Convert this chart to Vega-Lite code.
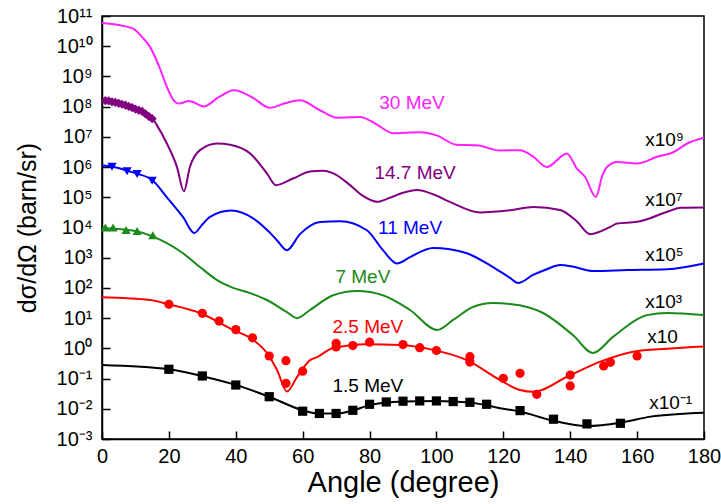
{
  "$schema": "https://vega.github.io/schema/vega-lite/v6.json",
  "width": 602,
  "height": 423,
  "autosize": {"type": "none"},
  "padding": {"left": 102, "top": 16, "right": 17, "bottom": 65},
  "config": {
    "font": "Liberation Sans",
    "view": {"stroke": "black", "strokeWidth": 1.5},
    "axis": {
      "grid": false,
      "ticks": true,
      "tickSize": -8,
      "tickColor": "black",
      "tickWidth": 1.5,
      "labelFontSize": 20,
      "labelColor": "black",
      "titleFontWeight": "normal",
      "titleColor": "black",
      "domainColor": "black",
      "domainWidth": 1.5,
      "labelOverlap": false,
      "labelFlush": false,
      "labelBound": false
    }
  },
  "datasets": {
    "curves": [
      {"series": "30 MeV", "angle": 0, "sigma": 5.89e10},
      {"series": "30 MeV", "angle": 5, "sigma": 5.01e10},
      {"series": "30 MeV", "angle": 9.3, "sigma": 3.8e10},
      {"series": "30 MeV", "angle": 12, "sigma": 2.0e10},
      {"series": "30 MeV", "angle": 14.4, "sigma": 9.33e9},
      {"series": "30 MeV", "angle": 17.3, "sigma": 1.86e9},
      {"series": "30 MeV", "angle": 19.4, "sigma": 4.47e8},
      {"series": "30 MeV", "angle": 21.8, "sigma": 1.45e8},
      {"series": "30 MeV", "angle": 23, "sigma": 1.26e8},
      {"series": "30 MeV", "angle": 26, "sigma": 1.55e8},
      {"series": "30 MeV", "angle": 30.5, "sigma": 1.02e8},
      {"series": "30 MeV", "angle": 35, "sigma": 2.09e8},
      {"series": "30 MeV", "angle": 39.5, "sigma": 3.47e8},
      {"series": "30 MeV", "angle": 45, "sigma": 2.0e8},
      {"series": "30 MeV", "angle": 50.2, "sigma": 9.12e7},
      {"series": "30 MeV", "angle": 55, "sigma": 1.32e8},
      {"series": "30 MeV", "angle": 59.2, "sigma": 1.62e8},
      {"series": "30 MeV", "angle": 65.2, "sigma": 7.59e7},
      {"series": "30 MeV", "angle": 70.3, "sigma": 4.27e7},
      {"series": "30 MeV", "angle": 77.2, "sigma": 4.57e7},
      {"series": "30 MeV", "angle": 82, "sigma": 2.63e7},
      {"series": "30 MeV", "angle": 87, "sigma": 1.32e7},
      {"series": "30 MeV", "angle": 95, "sigma": 1.41e7},
      {"series": "30 MeV", "angle": 100, "sigma": 1.12e7},
      {"series": "30 MeV", "angle": 106, "sigma": 5.5e6},
      {"series": "30 MeV", "angle": 112, "sigma": 5.25e6},
      {"series": "30 MeV", "angle": 119, "sigma": 3.55e6},
      {"series": "30 MeV", "angle": 125, "sigma": 3.63e6},
      {"series": "30 MeV", "angle": 129, "sigma": 2.19e6},
      {"series": "30 MeV", "angle": 133, "sigma": 1.0e6},
      {"series": "30 MeV", "angle": 139, "sigma": 2.82e6},
      {"series": "30 MeV", "angle": 142, "sigma": 8.91e5},
      {"series": "30 MeV", "angle": 144.4, "sigma": 4.79e5},
      {"series": "30 MeV", "angle": 147.7, "sigma": 1.02e5},
      {"series": "30 MeV", "angle": 149.5, "sigma": 4.79e5},
      {"series": "30 MeV", "angle": 151, "sigma": 1.0e6},
      {"series": "30 MeV", "angle": 154, "sigma": 1.48e6},
      {"series": "30 MeV", "angle": 160, "sigma": 1.32e6},
      {"series": "30 MeV", "angle": 166, "sigma": 2.19e6},
      {"series": "30 MeV", "angle": 171, "sigma": 3.16e6},
      {"series": "30 MeV", "angle": 175, "sigma": 6.03e6},
      {"series": "30 MeV", "angle": 180, "sigma": 9.33e6},

      {"series": "14.7 MeV", "angle": 0, "sigma": 1.62e8},
      {"series": "14.7 MeV", "angle": 5, "sigma": 1.26e8},
      {"series": "14.7 MeV", "angle": 10, "sigma": 7.94e7},
      {"series": "14.7 MeV", "angle": 15, "sigma": 4.17e7},
      {"series": "14.7 MeV", "angle": 16.4, "sigma": 2.45e7},
      {"series": "14.7 MeV", "angle": 19.4, "sigma": 6.03e6},
      {"series": "14.7 MeV", "angle": 22.4, "sigma": 1.02e6},
      {"series": "14.7 MeV", "angle": 24.5, "sigma": 1.58e5},
      {"series": "14.7 MeV", "angle": 26.3, "sigma": 1.02e6},
      {"series": "14.7 MeV", "angle": 29.3, "sigma": 3.63e6},
      {"series": "14.7 MeV", "angle": 34.4, "sigma": 6.03e6},
      {"series": "14.7 MeV", "angle": 38.3, "sigma": 5.5e6},
      {"series": "14.7 MeV", "angle": 44.3, "sigma": 2.82e6},
      {"series": "14.7 MeV", "angle": 49.3, "sigma": 6.17e5},
      {"series": "14.7 MeV", "angle": 52, "sigma": 2.51e5},
      {"series": "14.7 MeV", "angle": 57.1, "sigma": 4.17e5},
      {"series": "14.7 MeV", "angle": 62.2, "sigma": 7.08e5},
      {"series": "14.7 MeV", "angle": 66, "sigma": 7.59e5},
      {"series": "14.7 MeV", "angle": 69, "sigma": 6.31e5},
      {"series": "14.7 MeV", "angle": 74, "sigma": 2.63e5},
      {"series": "14.7 MeV", "angle": 78, "sigma": 1.12e5},
      {"series": "14.7 MeV", "angle": 82.2, "sigma": 7.08e4},
      {"series": "14.7 MeV", "angle": 86, "sigma": 9.55e4},
      {"series": "14.7 MeV", "angle": 90, "sigma": 1.41e5},
      {"series": "14.7 MeV", "angle": 94.2, "sigma": 1.74e5},
      {"series": "14.7 MeV", "angle": 99, "sigma": 1.26e5},
      {"series": "14.7 MeV", "angle": 104, "sigma": 7.08e4},
      {"series": "14.7 MeV", "angle": 113, "sigma": 3.16e4},
      {"series": "14.7 MeV", "angle": 122, "sigma": 3.72e4},
      {"series": "14.7 MeV", "angle": 129, "sigma": 4.79e4},
      {"series": "14.7 MeV", "angle": 137, "sigma": 3.8e4},
      {"series": "14.7 MeV", "angle": 142, "sigma": 1.58e4},
      {"series": "14.7 MeV", "angle": 146, "sigma": 6.03e3},
      {"series": "14.7 MeV", "angle": 152, "sigma": 1.05e4},
      {"series": "14.7 MeV", "angle": 154, "sigma": 1.35e4},
      {"series": "14.7 MeV", "angle": 160, "sigma": 1.55e4},
      {"series": "14.7 MeV", "angle": 162, "sigma": 1.74e4},
      {"series": "14.7 MeV", "angle": 169, "sigma": 3.31e4},
      {"series": "14.7 MeV", "angle": 173, "sigma": 4.47e4},
      {"series": "14.7 MeV", "angle": 180, "sigma": 4.57e4},

      {"series": "11 MeV", "angle": 0, "sigma": 1.12e6},
      {"series": "11 MeV", "angle": 3.3, "sigma": 1.02e6},
      {"series": "11 MeV", "angle": 7.5, "sigma": 7.59e5},
      {"series": "11 MeV", "angle": 10.5, "sigma": 6.03e5},
      {"series": "11 MeV", "angle": 15, "sigma": 3.72e5},
      {"series": "11 MeV", "angle": 19.4, "sigma": 1.0e5},
      {"series": "11 MeV", "angle": 24.2, "sigma": 2.24e4},
      {"series": "11 MeV", "angle": 27.6, "sigma": 6.61e3},
      {"series": "11 MeV", "angle": 30, "sigma": 1.26e4},
      {"series": "11 MeV", "angle": 32.3, "sigma": 2.24e4},
      {"series": "11 MeV", "angle": 38.6, "sigma": 3.63e4},
      {"series": "11 MeV", "angle": 45.2, "sigma": 2.0e4},
      {"series": "11 MeV", "angle": 50, "sigma": 7.08e3},
      {"series": "11 MeV", "angle": 52.3, "sigma": 3.8e3},
      {"series": "11 MeV", "angle": 55.3, "sigma": 1.78e3},
      {"series": "11 MeV", "angle": 59.2, "sigma": 6.03e3},
      {"series": "11 MeV", "angle": 65.2, "sigma": 1.51e4},
      {"series": "11 MeV", "angle": 71.2, "sigma": 1.62e4},
      {"series": "11 MeV", "angle": 79.2, "sigma": 8.13e3},
      {"series": "11 MeV", "angle": 84, "sigma": 1.78e3},
      {"series": "11 MeV", "angle": 88.2, "sigma": 646},
      {"series": "11 MeV", "angle": 92.1, "sigma": 1050},
      {"series": "11 MeV", "angle": 99, "sigma": 2090},
      {"series": "11 MeV", "angle": 104, "sigma": 1910},
      {"series": "11 MeV", "angle": 109.1, "sigma": 1410},
      {"series": "11 MeV", "angle": 116.9, "sigma": 490},
      {"series": "11 MeV", "angle": 122, "sigma": 214},
      {"series": "11 MeV", "angle": 124.4, "sigma": 145},
      {"series": "11 MeV", "angle": 128.9, "sigma": 269},
      {"series": "11 MeV", "angle": 133, "sigma": 417},
      {"series": "11 MeV", "angle": 137, "sigma": 575},
      {"series": "11 MeV", "angle": 141, "sigma": 501},
      {"series": "11 MeV", "angle": 146.8, "sigma": 363},
      {"series": "11 MeV", "angle": 157, "sigma": 389},
      {"series": "11 MeV", "angle": 169, "sigma": 417},
      {"series": "11 MeV", "angle": 180, "sigma": 646},

      {"series": "7 MeV", "angle": 0, "sigma": 9330},
      {"series": "7 MeV", "angle": 5, "sigma": 8900},
      {"series": "7 MeV", "angle": 10, "sigma": 7600},
      {"series": "7 MeV", "angle": 15.3, "sigma": 5000},
      {"series": "7 MeV", "angle": 19.4, "sigma": 3020},
      {"series": "7 MeV", "angle": 24.2, "sigma": 1410},
      {"series": "7 MeV", "angle": 29.3, "sigma": 490},
      {"series": "7 MeV", "angle": 34.4, "sigma": 182},
      {"series": "7 MeV", "angle": 39.2, "sigma": 100},
      {"series": "7 MeV", "angle": 44.3, "sigma": 67.6},
      {"series": "7 MeV", "angle": 49.3, "sigma": 39.8},
      {"series": "7 MeV", "angle": 55.3, "sigma": 15.8},
      {"series": "7 MeV", "angle": 58.3, "sigma": 10},
      {"series": "7 MeV", "angle": 62.2, "sigma": 18.6},
      {"series": "7 MeV", "angle": 69.1, "sigma": 57.5},
      {"series": "7 MeV", "angle": 76.3, "sigma": 79.4},
      {"series": "7 MeV", "angle": 84, "sigma": 57.5},
      {"series": "7 MeV", "angle": 92.1, "sigma": 18.6},
      {"series": "7 MeV", "angle": 100.2, "sigma": 4.07},
      {"series": "7 MeV", "angle": 105, "sigma": 8.71},
      {"series": "7 MeV", "angle": 110.9, "sigma": 23.4},
      {"series": "7 MeV", "angle": 116.9, "sigma": 31.6},
      {"series": "7 MeV", "angle": 122, "sigma": 29.5},
      {"series": "7 MeV", "angle": 131.9, "sigma": 14.8},
      {"series": "7 MeV", "angle": 140.8, "sigma": 2.75},
      {"series": "7 MeV", "angle": 146.8, "sigma": 0.708},
      {"series": "7 MeV", "angle": 152.8, "sigma": 2.4},
      {"series": "7 MeV", "angle": 163, "sigma": 12.6},
      {"series": "7 MeV", "angle": 169, "sigma": 14.8},
      {"series": "7 MeV", "angle": 180, "sigma": 12.6},

      {"series": "2.5 MeV", "angle": 0, "sigma": 49},
      {"series": "2.5 MeV", "angle": 14.4, "sigma": 39.8},
      {"series": "2.5 MeV", "angle": 20, "sigma": 28.6},
      {"series": "2.5 MeV", "angle": 29.3, "sigma": 14.8},
      {"series": "2.5 MeV", "angle": 39.2, "sigma": 4.07},
      {"series": "2.5 MeV", "angle": 45.2, "sigma": 1.91},
      {"series": "2.5 MeV", "angle": 49.3, "sigma": 0.708},
      {"series": "2.5 MeV", "angle": 52.3, "sigma": 0.195},
      {"series": "2.5 MeV", "angle": 55.3, "sigma": 0.0372},
      {"series": "2.5 MeV", "angle": 58.3, "sigma": 0.112},
      {"series": "2.5 MeV", "angle": 62.2, "sigma": 0.407},
      {"series": "2.5 MeV", "angle": 64.3, "sigma": 0.513},
      {"series": "2.5 MeV", "angle": 69.1, "sigma": 1.02},
      {"series": "2.5 MeV", "angle": 79.2, "sigma": 1.38},
      {"series": "2.5 MeV", "angle": 89.1, "sigma": 1.29},
      {"series": "2.5 MeV", "angle": 99, "sigma": 0.891},
      {"series": "2.5 MeV", "angle": 109.1, "sigma": 0.407},
      {"series": "2.5 MeV", "angle": 119, "sigma": 0.0891},
      {"series": "2.5 MeV", "angle": 125, "sigma": 0.0417},
      {"series": "2.5 MeV", "angle": 128.9, "sigma": 0.0363},
      {"series": "2.5 MeV", "angle": 139.1, "sigma": 0.115},
      {"series": "2.5 MeV", "angle": 149, "sigma": 0.363},
      {"series": "2.5 MeV", "angle": 158.8, "sigma": 0.776},
      {"series": "2.5 MeV", "angle": 169, "sigma": 0.977},
      {"series": "2.5 MeV", "angle": 180, "sigma": 1.15},

      {"series": "1.5 MeV", "angle": 0, "sigma": 0.282},
      {"series": "1.5 MeV", "angle": 20, "sigma": 0.204},
      {"series": "1.5 MeV", "angle": 30, "sigma": 0.12},
      {"series": "1.5 MeV", "angle": 40, "sigma": 0.0617},
      {"series": "1.5 MeV", "angle": 50, "sigma": 0.0251},
      {"series": "1.5 MeV", "angle": 60, "sigma": 0.00891},
      {"series": "1.5 MeV", "angle": 65, "sigma": 0.00692},
      {"series": "1.5 MeV", "angle": 70, "sigma": 0.00692},
      {"series": "1.5 MeV", "angle": 75, "sigma": 0.00871},
      {"series": "1.5 MeV", "angle": 80, "sigma": 0.0132},
      {"series": "1.5 MeV", "angle": 90, "sigma": 0.0174},
      {"series": "1.5 MeV", "angle": 100, "sigma": 0.0182},
      {"series": "1.5 MeV", "angle": 110, "sigma": 0.0162},
      {"series": "1.5 MeV", "angle": 119, "sigma": 0.0105},
      {"series": "1.5 MeV", "angle": 125, "sigma": 0.00813},
      {"series": "1.5 MeV", "angle": 134, "sigma": 0.00427},
      {"series": "1.5 MeV", "angle": 145, "sigma": 0.00269},
      {"series": "1.5 MeV", "angle": 155, "sigma": 0.00347},
      {"series": "1.5 MeV", "angle": 164, "sigma": 0.0055},
      {"series": "1.5 MeV", "angle": 180, "sigma": 0.00741}
    ],
    "points": [
      {"series": "14.7 MeV", "angle": 1, "sigma": 1.58e8},
      {"series": "14.7 MeV", "angle": 2, "sigma": 1.55e8},
      {"series": "14.7 MeV", "angle": 3, "sigma": 1.45e8},
      {"series": "14.7 MeV", "angle": 4, "sigma": 1.38e8},
      {"series": "14.7 MeV", "angle": 5, "sigma": 1.29e8},
      {"series": "14.7 MeV", "angle": 6, "sigma": 1.2e8},
      {"series": "14.7 MeV", "angle": 7, "sigma": 1.12e8},
      {"series": "14.7 MeV", "angle": 8, "sigma": 1.02e8},
      {"series": "14.7 MeV", "angle": 9, "sigma": 9.33e7},
      {"series": "14.7 MeV", "angle": 10, "sigma": 8.32e7},
      {"series": "14.7 MeV", "angle": 11, "sigma": 7.59e7},
      {"series": "14.7 MeV", "angle": 12, "sigma": 6.92e7},
      {"series": "14.7 MeV", "angle": 13, "sigma": 5.75e7},
      {"series": "14.7 MeV", "angle": 14, "sigma": 4.79e7},
      {"series": "14.7 MeV", "angle": 15, "sigma": 3.98e7},

      {"series": "11 MeV", "angle": 3, "sigma": 1.02e6},
      {"series": "11 MeV", "angle": 7.5, "sigma": 7.24e5},
      {"series": "11 MeV", "angle": 10.5, "sigma": 5.89e5},
      {"series": "11 MeV", "angle": 15, "sigma": 3.55e5},

      {"series": "7 MeV", "angle": 1, "sigma": 10000},
      {"series": "7 MeV", "angle": 3.3, "sigma": 10000},
      {"series": "7 MeV", "angle": 7.2, "sigma": 8300},
      {"series": "7 MeV", "angle": 10.5, "sigma": 7600},
      {"series": "7 MeV", "angle": 15.2, "sigma": 5500},

      {"series": "2.5 MeV", "angle": 20, "sigma": 28.6},
      {"series": "2.5 MeV", "angle": 30, "sigma": 14.4},
      {"series": "2.5 MeV", "angle": 35, "sigma": 8.02},
      {"series": "2.5 MeV", "angle": 40, "sigma": 4.17},
      {"series": "2.5 MeV", "angle": 45, "sigma": 2.23},
      {"series": "2.5 MeV", "angle": 50, "sigma": 0.558},
      {"series": "2.5 MeV", "angle": 55, "sigma": 0.39},
      {"series": "2.5 MeV", "angle": 55, "sigma": 0.0698},
      {"series": "2.5 MeV", "angle": 60, "sigma": 0.175},
      {"series": "2.5 MeV", "angle": 70, "sigma": 1.47},
      {"series": "2.5 MeV", "angle": 70, "sigma": 1.11},
      {"series": "2.5 MeV", "angle": 75, "sigma": 1.24},
      {"series": "2.5 MeV", "angle": 80, "sigma": 1.6},
      {"series": "2.5 MeV", "angle": 90, "sigma": 1.33},
      {"series": "2.5 MeV", "angle": 95, "sigma": 1.05},
      {"series": "2.5 MeV", "angle": 100, "sigma": 0.849},
      {"series": "2.5 MeV", "angle": 110, "sigma": 0.53},
      {"series": "2.5 MeV", "angle": 110, "sigma": 0.353},
      {"series": "2.5 MeV", "angle": 120, "sigma": 0.102},
      {"series": "2.5 MeV", "angle": 125, "sigma": 0.149},
      {"series": "2.5 MeV", "angle": 130, "sigma": 0.0302},
      {"series": "2.5 MeV", "angle": 140, "sigma": 0.131},
      {"series": "2.5 MeV", "angle": 140, "sigma": 0.0569},
      {"series": "2.5 MeV", "angle": 150, "sigma": 0.261},
      {"series": "2.5 MeV", "angle": 152, "sigma": 0.345},
      {"series": "2.5 MeV", "angle": 160, "sigma": 0.558},

      {"series": "1.5 MeV", "angle": 20, "sigma": 0.203},
      {"series": "1.5 MeV", "angle": 30, "sigma": 0.122},
      {"series": "1.5 MeV", "angle": 40, "sigma": 0.0612},
      {"series": "1.5 MeV", "angle": 50, "sigma": 0.0251},
      {"series": "1.5 MeV", "angle": 60, "sigma": 0.00832},
      {"series": "1.5 MeV", "angle": 65, "sigma": 0.007},
      {"series": "1.5 MeV", "angle": 70, "sigma": 0.007},
      {"series": "1.5 MeV", "angle": 75, "sigma": 0.00891},
      {"series": "1.5 MeV", "angle": 80, "sigma": 0.0141},
      {"series": "1.5 MeV", "angle": 85, "sigma": 0.0168},
      {"series": "1.5 MeV", "angle": 90, "sigma": 0.0178},
      {"series": "1.5 MeV", "angle": 95, "sigma": 0.0182},
      {"series": "1.5 MeV", "angle": 100, "sigma": 0.0182},
      {"series": "1.5 MeV", "angle": 105, "sigma": 0.0174},
      {"series": "1.5 MeV", "angle": 110, "sigma": 0.0164},
      {"series": "1.5 MeV", "angle": 115, "sigma": 0.0141},
      {"series": "1.5 MeV", "angle": 125, "sigma": 0.00871},
      {"series": "1.5 MeV", "angle": 135, "sigma": 0.00452},
      {"series": "1.5 MeV", "angle": 145, "sigma": 0.00316},
      {"series": "1.5 MeV", "angle": 155, "sigma": 0.00331}
    ],
    "labels": [
      {"series": "30 MeV", "angle": 92.7, "sigma": 1.32e8, "label": "30 MeV"},
      {"series": "14.7 MeV", "angle": 93.6, "sigma": 6.3e5, "label": "14.7 MeV"},
      {"series": "11 MeV", "angle": 92.1, "sigma": 9500, "label": "11 MeV"},
      {"series": "7 MeV", "angle": 78, "sigma": 229, "label": "7 MeV"},
      {"series": "2.5 MeV", "angle": 79.5, "sigma": 5.0, "label": "2.5 MeV"},
      {"series": "1.5 MeV", "angle": 79.5, "sigma": 0.058, "label": "1.5 MeV"}
    ],
    "factors": [
      {"angle": 162.4, "sigma": 7.8e6, "label": "x10⁹"},
      {"angle": 162.4, "sigma": 8.1e4, "label": "x10⁷"},
      {"angle": 162.4, "sigma": 1230, "label": "x10⁵"},
      {"angle": 162.4, "sigma": 34, "label": "x10³"},
      {"angle": 163, "sigma": 2.37, "label": "x10"},
      {"angle": 163.6, "sigma": 0.0155, "label": "x10⁻¹"}
    ],
    "xticks": [
      {"angle": 5}, {"angle": 10}, {"angle": 15}, {"angle": 25}, {"angle": 30}, {"angle": 35},
      {"angle": 45}, {"angle": 50}, {"angle": 55}, {"angle": 65}, {"angle": 70}, {"angle": 75},
      {"angle": 85}, {"angle": 90}, {"angle": 95}, {"angle": 105}, {"angle": 110}, {"angle": 115},
      {"angle": 125}, {"angle": 130}, {"angle": 135}, {"angle": 145}, {"angle": 150}, {"angle": 155},
      {"angle": 165}, {"angle": 170}, {"angle": 175}
    ],
    "yticks": [
      {"sigma": 0.002}, {"sigma": 0.003}, {"sigma": 0.004}, {"sigma": 0.005}, {"sigma": 0.006}, {"sigma": 0.007}, {"sigma": 0.008}, {"sigma": 0.009},
      {"sigma": 0.02}, {"sigma": 0.03}, {"sigma": 0.04}, {"sigma": 0.05}, {"sigma": 0.06}, {"sigma": 0.07}, {"sigma": 0.08}, {"sigma": 0.09},
      {"sigma": 0.2}, {"sigma": 0.3}, {"sigma": 0.4}, {"sigma": 0.5}, {"sigma": 0.6}, {"sigma": 0.7}, {"sigma": 0.8}, {"sigma": 0.9},
      {"sigma": 2}, {"sigma": 3}, {"sigma": 4}, {"sigma": 5}, {"sigma": 6}, {"sigma": 7}, {"sigma": 8}, {"sigma": 9},
      {"sigma": 20}, {"sigma": 30}, {"sigma": 40}, {"sigma": 50}, {"sigma": 60}, {"sigma": 70}, {"sigma": 80}, {"sigma": 90},
      {"sigma": 200}, {"sigma": 300}, {"sigma": 400}, {"sigma": 500}, {"sigma": 600}, {"sigma": 700}, {"sigma": 800}, {"sigma": 900},
      {"sigma": 2e3}, {"sigma": 3e3}, {"sigma": 4e3}, {"sigma": 5e3}, {"sigma": 6e3}, {"sigma": 7e3}, {"sigma": 8e3}, {"sigma": 9e3},
      {"sigma": 2e4}, {"sigma": 3e4}, {"sigma": 4e4}, {"sigma": 5e4}, {"sigma": 6e4}, {"sigma": 7e4}, {"sigma": 8e4}, {"sigma": 9e4},
      {"sigma": 2e5}, {"sigma": 3e5}, {"sigma": 4e5}, {"sigma": 5e5}, {"sigma": 6e5}, {"sigma": 7e5}, {"sigma": 8e5}, {"sigma": 9e5},
      {"sigma": 2e6}, {"sigma": 3e6}, {"sigma": 4e6}, {"sigma": 5e6}, {"sigma": 6e6}, {"sigma": 7e6}, {"sigma": 8e6}, {"sigma": 9e6},
      {"sigma": 2e7}, {"sigma": 3e7}, {"sigma": 4e7}, {"sigma": 5e7}, {"sigma": 6e7}, {"sigma": 7e7}, {"sigma": 8e7}, {"sigma": 9e7},
      {"sigma": 2e8}, {"sigma": 3e8}, {"sigma": 4e8}, {"sigma": 5e8}, {"sigma": 6e8}, {"sigma": 7e8}, {"sigma": 8e8}, {"sigma": 9e8},
      {"sigma": 2e9}, {"sigma": 3e9}, {"sigma": 4e9}, {"sigma": 5e9}, {"sigma": 6e9}, {"sigma": 7e9}, {"sigma": 8e9}, {"sigma": 9e9},
      {"sigma": 2e10}, {"sigma": 3e10}, {"sigma": 4e10}, {"sigma": 5e10}, {"sigma": 6e10}, {"sigma": 7e10}, {"sigma": 8e10}, {"sigma": 9e10}
    ]
  },
  "encoding": {
    "x": {
      "field": "angle",
      "type": "quantitative",
      "scale": {"domain": [0, 180], "nice": false, "zero": false},
      "axis": {
        "title": "Angle (degree)",
        "titleFontSize": 29,
        "values": [0, 20, 40, 60, 80, 100, 120, 140, 160, 180],
        "labelPadding": 15,
        "titlePadding": 2
      }
    },
    "y": {
      "field": "sigma",
      "type": "quantitative",
      "scale": {"type": "log", "domain": [0.001, 1e11], "nice": false},
      "axis": {
        "title": "dσ/dΩ (barn/sr)",
        "titleFontSize": 25,
        "values": [0.001, 0.01, 0.1, 1, 10, 100, 1e3, 1e4, 1e5, 1e6, 1e7, 1e8, 1e9, 1e10, 1e11],
        "labelExpr": "'10' + ['⁻³','⁻²','⁻¹','⁰','¹','²','³','⁴','⁵','⁶','⁷','⁸','⁹','¹⁰','¹¹'][round(log(datum.value)/LN10) + 3]",
        "labelPadding": 18,
        "titlePadding": 16
      }
    },
    "color": {
      "field": "series",
      "type": "nominal",
      "scale": {
        "domain": ["30 MeV", "14.7 MeV", "11 MeV", "7 MeV", "2.5 MeV", "1.5 MeV"],
        "range": ["#ff22ff", "#800080", "#0000ff", "#1a8a1a", "#ff0000", "#000000"]
      },
      "legend": null
    }
  },
  "layer": [
    {
      "data": {"name": "xticks"},
      "mark": {"type": "rule", "strokeWidth": 1.5, "color": "black"},
      "encoding": {"y": {"datum": 0.001}, "y2": {"datum": 0.00136}, "color": {"value": "black"}}
    },
    {
      "data": {"name": "yticks"},
      "mark": {"type": "rule", "strokeWidth": 1.3, "color": "black"},
      "encoding": {"x": {"datum": 0}, "x2": {"datum": 1.2}, "color": {"value": "black"}}
    },
    {
      "data": {"name": "curves"},
      "mark": {"type": "line", "interpolate": "monotone", "strokeWidth": 2}
    },
    {
      "data": {"name": "points"},
      "mark": {"type": "point", "filled": true, "opacity": 1, "size": 85},
      "encoding": {
        "shape": {
          "field": "series",
          "type": "nominal",
          "scale": {
            "domain": ["30 MeV", "14.7 MeV", "11 MeV", "7 MeV", "2.5 MeV", "1.5 MeV"],
            "range": ["circle", "diamond", "triangle-down", "triangle-up", "circle", "square"]
          },
          "legend": null
        }
      }
    },
    {
      "data": {"name": "labels"},
      "mark": {"type": "text", "fontSize": 19, "align": "center", "baseline": "middle"},
      "encoding": {"text": {"field": "label"}}
    },
    {
      "data": {"name": "factors"},
      "mark": {"type": "text", "fontSize": 19, "align": "left", "baseline": "middle"},
      "encoding": {"text": {"field": "label"}, "color": {"value": "black"}}
    }
  ]
}
